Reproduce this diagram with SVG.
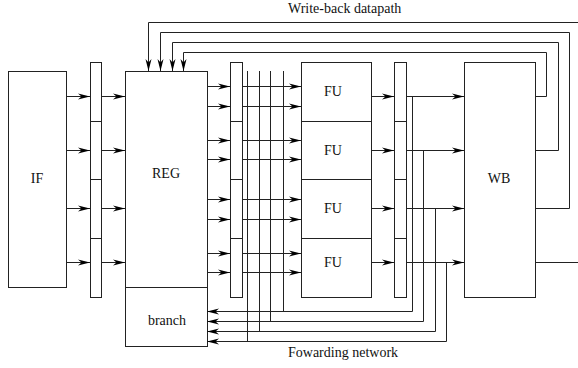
<svg xmlns="http://www.w3.org/2000/svg" width="578" height="368" viewBox="0 0 578 368">
<style>
.box{fill:#fff;stroke:#222;stroke-width:1}
.ln{fill:none;stroke:#222;stroke-width:1}
.arr{fill:none;stroke:#222;stroke-width:1;marker-end:url(#ah)}
text{font-family:"Liberation Serif","Times New Roman",serif;font-size:14px;fill:#111}
</style>
<defs>
<marker id="ah" markerUnits="userSpaceOnUse" markerWidth="13" markerHeight="8" refX="12" refY="3.5" orient="auto">
<path d="M0,0.5 L12,3.5 L0,6.5 L3.5,3.5 z" fill="#000"/>
</marker>
</defs>
<rect width="578" height="368" fill="#fff"/>
<g id="IF"><rect class="box" x="8.5" y="71.5" width="58" height="216"/><text x="37" y="183" text-anchor="middle">IF</text></g>
<g id="pipe1"><rect class="box" x="90.5" y="62.5" width="11" height="235"/><path class="ln" d="M90.5,121.5h11M90.5,179.5h11M90.5,238.5h11"/></g>
<g id="REG"><rect class="box" x="125.5" y="71.5" width="82" height="216"/><text x="166" y="178" text-anchor="middle">REG</text></g>
<g id="branch"><rect class="box" x="125.5" y="287.5" width="82" height="59"/><text x="167" y="325" text-anchor="middle">branch</text></g>
<g id="pipe2"><rect class="box" x="230.5" y="62.5" width="12" height="235"/><path class="ln" d="M230.5,121.5h12M230.5,179.5h12M230.5,238.5h12"/></g>
<g id="FU1"><rect class="box" x="301.5" y="62.5" width="70" height="59"/><text x="333" y="96" text-anchor="middle">FU</text></g>
<g id="FU2"><rect class="box" x="301.5" y="121.5" width="70" height="58"/><text x="333" y="155" text-anchor="middle">FU</text></g>
<g id="FU3"><rect class="box" x="301.5" y="179.5" width="70" height="59"/><text x="333" y="213" text-anchor="middle">FU</text></g>
<g id="FU4"><rect class="box" x="301.5" y="238.5" width="70" height="59"/><text x="333" y="267" text-anchor="middle">FU</text></g>
<g id="pipe3"><rect class="box" x="394.5" y="62.5" width="12" height="235"/><path class="ln" d="M394.5,121.5h12M394.5,179.5h12M394.5,238.5h12"/></g>
<g id="WB"><rect class="box" x="464.5" y="62.5" width="71" height="235"/><text x="499" y="183" text-anchor="middle">WB</text></g>
<g id="connectors">
<path class="arr" d="M66,96.5H90"/><path class="arr" d="M66,150.5H90"/><path class="arr" d="M66,208.5H90"/><path class="arr" d="M66,262.5H90"/>
<path class="arr" d="M101,96.5H125"/><path class="arr" d="M101,150.5H125"/><path class="arr" d="M101,208.5H125"/><path class="arr" d="M101,262.5H125"/>
<path class="arr" d="M207,86.5H230"/><path class="arr" d="M207,106.5H230"/><path class="arr" d="M207,140.5H230"/><path class="arr" d="M207,159.5H230"/>
<path class="arr" d="M207,199.5H230"/><path class="arr" d="M207,219.5H230"/><path class="arr" d="M207,253.5H230"/><path class="arr" d="M207,272.5H230"/>
<path class="arr" d="M242,86.5H301"/><path class="arr" d="M242,106.5H301"/><path class="arr" d="M242,140.5H301"/><path class="arr" d="M242,159.5H301"/>
<path class="arr" d="M242,199.5H301"/><path class="arr" d="M242,219.5H301"/><path class="arr" d="M242,253.5H301"/><path class="arr" d="M242,272.5H301"/>
<path class="ln" d="M247.5,71V341.5M259.5,71V331.5M270.5,71V321.5M283.5,71V311.5"/>
<path class="arr" d="M371,96.5H394"/><path class="arr" d="M371,150.5H394"/><path class="arr" d="M371,208.5H394"/><path class="arr" d="M371,262.5H394"/>
<path class="arr" d="M406,96.5H464"/><path class="arr" d="M406,150.5H464"/><path class="arr" d="M406,208.5H464"/><path class="arr" d="M406,262.5H464"/>
<path class="arr" d="M412.5,96.5V311.5H207"/>
<path class="arr" d="M423.5,150.5V321.5H207"/>
<path class="arr" d="M435.5,208.5V331.5H207"/>
<path class="arr" d="M446.5,262.5V341.5H207"/>
<path class="arr" d="M535,96.5H546.5V52.5H183.5V71"/>
<path class="arr" d="M535,150.5H558.5V42.5H172.5V71"/>
<path class="arr" d="M535,208.5H569.5V32.5H160.5V71"/>
<path class="ln" d="M535,262.5H578"/>
<path class="arr" d="M578,22.5H148.5V71"/>
</g>
<text x="288" y="13">Write-back datapath</text>
<text x="288" y="357">Fowarding network</text>
</svg>
